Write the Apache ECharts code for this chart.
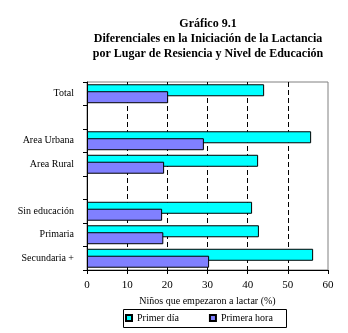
<!DOCTYPE html>
<html>
<head>
<meta charset="utf-8">
<script src="https://cdn.jsdelivr.net/npm/echarts@6/dist/echarts.min.js"></script>
<style>
  html, body { margin: 0; padding: 0; background: #fff; }
  #chart { width: 348px; height: 333px; }
</style>
</head>
<body>
<div id="chart"></div>
<script>
// Groups, with blank rows separating total, residence and education
const categories = ['Total', '', 'Area Urbana', 'Area Rural', '', 'Sin educación', 'Primaria', 'Secundaria +'];
// Percent of children who started breastfeeding
const primerDia   = [44.1, null, 55.8, 42.6, null, 41.1, 42.8, 56.3];
const primeraHora = [20.2, null, 29.1, 19.2, null, 18.7, 19.0, 30.4];
const xTicks = [0, 10, 20, 30, 40, 50, 60];

const serif = '"Liberation Serif", "Times New Roman", serif';

const chart = echarts.init(document.getElementById('chart'), null, { renderer: 'canvas' });
chart.setOption({
  animation: false,
  backgroundColor: '#ffffff',
  title: {
    text: 'Gráfico 9.1\nDiferenciales en la Iniciación de la Lactancia\npor Lugar de Resiencia y Nivel de Educación',
    left: 203,
    top: 11,
    textAlign: 'center',
    textStyle: {
      fontFamily: serif,
      fontWeight: 'bold',
      fontSize: 12,
      lineHeight: 15,
      color: '#000'
    }
  },
  grid: {
    left: 87, right: 20, top: 82, bottom: 63,
    show: true,
    borderColor: '#808080',
    borderWidth: 1,
    backgroundColor: 'transparent'
  },
  xAxis: {
    type: 'value',
    min: xTicks[0],
    max: xTicks[xTicks.length - 1],
    interval: 10,
    name: 'Niños que empezaron a lactar (%)',
    nameLocation: 'middle',
    nameGap: 26,
    nameTextStyle: { fontFamily: serif, fontSize: 10, color: '#000' },
    axisLine: { show: true, lineStyle: { color: '#000', width: 1 } },
    axisTick: { show: true, length: 4, lineStyle: { color: '#000' } },
    axisLabel: { fontFamily: serif, fontSize: 11, color: '#000', margin: 10 },
    splitLine: {
      show: true,
      showMinLine: false,
      showMaxLine: false,
      lineStyle: { color: '#000', type: [5, 3], width: 1 }
    }
  },
  yAxis: {
    type: 'category',
    data: categories,
    inverse: true,
    axisLine: { show: true, lineStyle: { color: '#000', width: 1 } },
    axisTick: { show: true, length: 4, inside: false, lineStyle: { color: '#000' } },
    axisLabel: { fontFamily: serif, fontSize: 10, color: '#000', margin: 13 },
    splitLine: { show: false }
  },
  legend: {
    left: 125,
    top: 313,
    itemWidth: 6,
    itemHeight: 6,
    itemGap: 30,
    icon: 'rect',
    padding: 0,
    textStyle: { fontFamily: serif, fontSize: 10, color: '#000' },
    data: ['Primer día', 'Primera hora']
  },
  graphic: [{
    type: 'rect',
    shape: { x: 123.5, y: 309.5, width: 163, height: 18 },
    style: { fill: 'none', stroke: '#000', lineWidth: 1 },
    silent: true
  }],
  series: [
    {
      name: 'Primer día',
      type: 'bar',
      data: primerDia,
      barWidth: 12,
      barGap: '-42%',
      itemStyle: { color: '#00FFFF', borderColor: '#000', borderWidth: 1 }
    },
    {
      name: 'Primera hora',
      type: 'bar',
      data: primeraHora,
      barWidth: 12,
      barGap: '-42%',
      itemStyle: { color: '#8080FF', borderColor: '#000', borderWidth: 1 }
    }
  ]
});
</script>
</body>
</html>
